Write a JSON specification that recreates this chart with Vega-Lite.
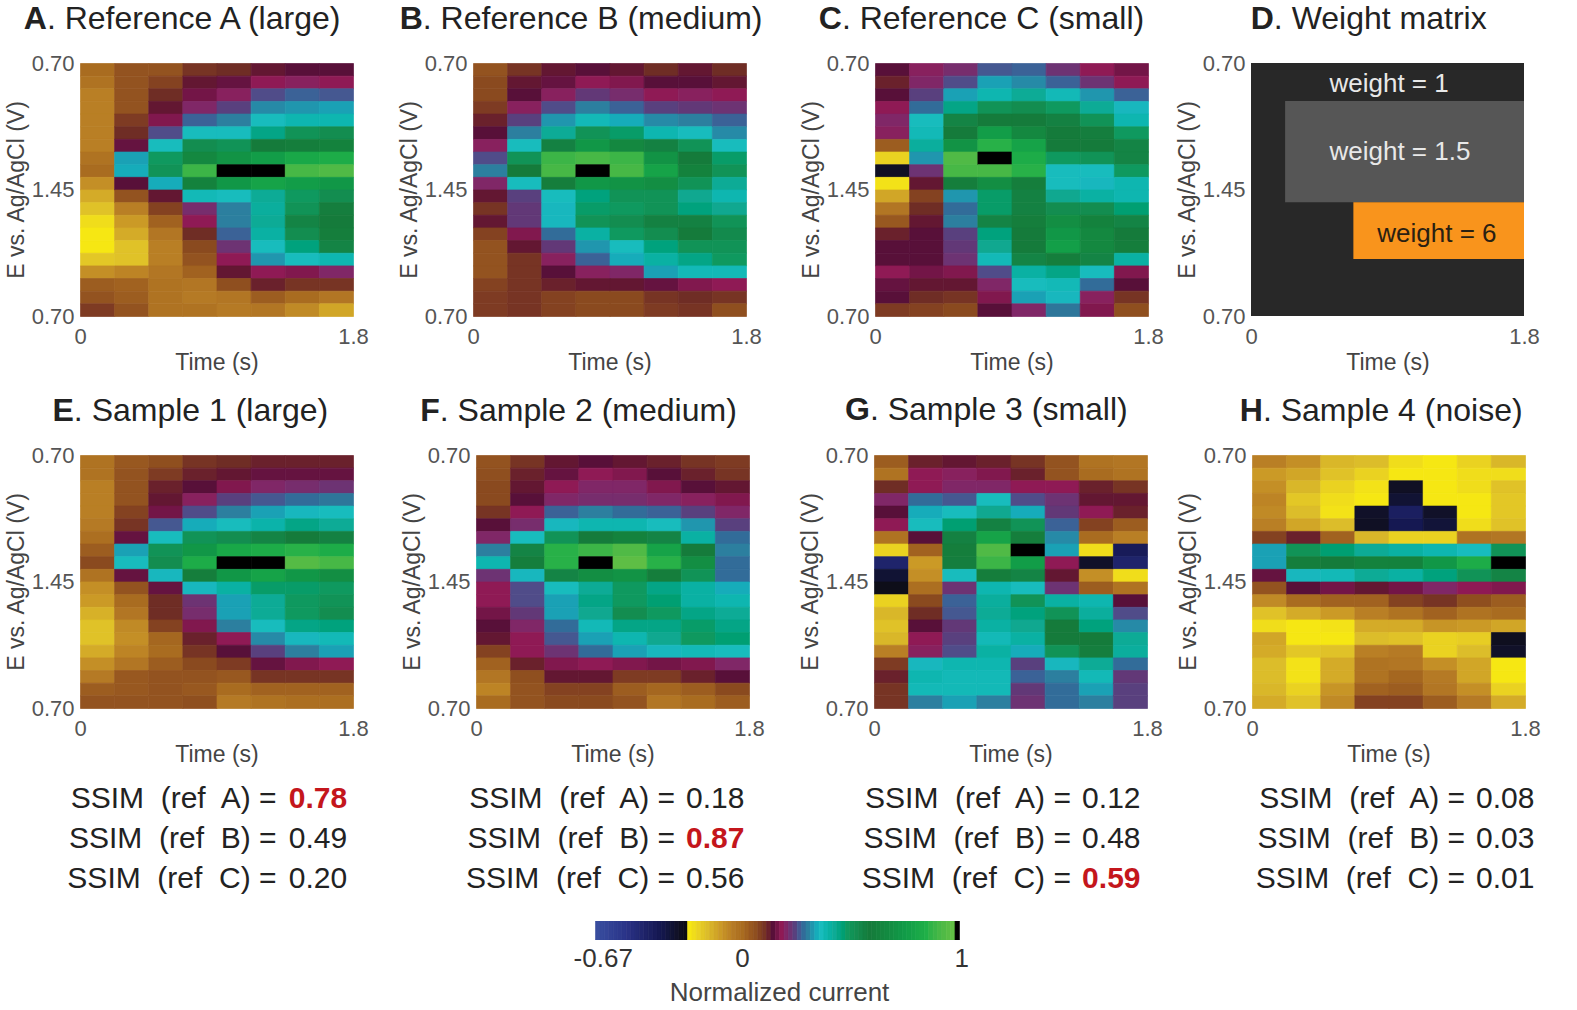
{"$schema":"https://vega.github.io/schema/vega-lite/v6.json","background":"white","padding":{"left":5,"top":2,"right":0,"bottom":0},
"config":{"view":{"stroke":null},"text":{"font":"Liberation Sans"},"axis":{"labelFont":"Liberation Sans","labelFontSize":22,"labelColor":"#555555","titleFont":"Liberation Sans","titleFontSize":23,"titleColor":"#444444","titleFontWeight":"normal","ticks":false,"domain":false,"grid":false,"labelPadding":10,"labelOverlap":false,"labelBound":false,"labelFlush":false}},
"datasets":{
"A":[{"t":0,"s":0,"v":0},{"t":0,"s":1,"v":-0.02},{"t":0,"s":2,"v":-0.05},{"t":0,"s":3,"v":-0.05},{"t":0,"s":4,"v":-0.05},{"t":0,"s":5,"v":-0.05},{"t":0,"s":6,"v":-0.05},{"t":0,"s":7,"v":-0.02},{"t":0,"s":8,"v":0},{"t":0,"s":9,"v":-0.08},{"t":0,"s":10,"v":-0.13},{"t":0,"s":11,"v":-0.17},{"t":0,"s":12,"v":-0.22},{"t":0,"s":13,"v":-0.24},{"t":0,"s":14,"v":-0.24},{"t":0,"s":15,"v":-0.18},{"t":0,"s":16,"v":-0.08},{"t":0,"s":17,"v":0.03},{"t":0,"s":18,"v":0.05},{"t":0,"s":19,"v":0.09},
{"t":1,"s":0,"v":0.05},{"t":1,"s":1,"v":0.05},{"t":1,"s":2,"v":0.05},{"t":1,"s":3,"v":0.05},{"t":1,"s":4,"v":0.09},{"t":1,"s":5,"v":0.11},{"t":1,"s":6,"v":0.15},{"t":1,"s":7,"v":0.33},{"t":1,"s":8,"v":0.34},{"t":1,"s":9,"v":0.14},{"t":1,"s":10,"v":0.05},{"t":1,"s":11,"v":-0.05},{"t":1,"s":12,"v":-0.1},{"t":1,"s":13,"v":-0.13},{"t":1,"s":14,"v":-0.17},{"t":1,"s":15,"v":-0.17},{"t":1,"s":16,"v":-0.06},{"t":1,"s":17,"v":0.02},{"t":1,"s":18,"v":0.03},{"t":1,"s":19,"v":0.05},
{"t":2,"s":0,"v":0.05},{"t":2,"s":1,"v":0.08},{"t":2,"s":2,"v":0.11},{"t":2,"s":3,"v":0.13},{"t":2,"s":4,"v":0.17},{"t":2,"s":5,"v":0.25},{"t":2,"s":6,"v":0.36},{"t":2,"s":7,"v":0.48},{"t":2,"s":8,"v":0.5},{"t":2,"s":9,"v":0.34},{"t":2,"s":10,"v":0.13},{"t":2,"s":11,"v":0.08},{"t":2,"s":12,"v":0.02},{"t":2,"s":13,"v":-0.03},{"t":2,"s":14,"v":-0.05},{"t":2,"s":15,"v":-0.05},{"t":2,"s":16,"v":-0.03},{"t":2,"s":17,"v":-0.02},{"t":2,"s":18,"v":-0.02},{"t":2,"s":19,"v":-0.02},
{"t":3,"s":0,"v":0.1},{"t":3,"s":1,"v":0.13},{"t":3,"s":2,"v":0.16},{"t":3,"s":3,"v":0.2},{"t":3,"s":4,"v":0.27},{"t":3,"s":5,"v":0.36},{"t":3,"s":6,"v":0.52},{"t":3,"s":7,"v":0.65},{"t":3,"s":8,"v":0.88},{"t":3,"s":9,"v":0.62},{"t":3,"s":10,"v":0.37},{"t":3,"s":11,"v":0.21},{"t":3,"s":12,"v":0.18},{"t":3,"s":13,"v":0.11},{"t":3,"s":14,"v":0.07},{"t":3,"s":15,"v":0.05},{"t":3,"s":16,"v":0.02},{"t":3,"s":17,"v":-0.03},{"t":3,"s":18,"v":-0.04},{"t":3,"s":19,"v":-0.02},
{"t":4,"s":0,"v":0.11},{"t":4,"s":1,"v":0.15},{"t":4,"s":2,"v":0.19},{"t":4,"s":3,"v":0.24},{"t":4,"s":4,"v":0.3},{"t":4,"s":5,"v":0.36},{"t":4,"s":6,"v":0.5},{"t":4,"s":7,"v":0.7},{"t":4,"s":8,"v":1},{"t":4,"s":9,"v":0.72},{"t":4,"s":10,"v":0.36},{"t":4,"s":11,"v":0.3},{"t":4,"s":12,"v":0.3},{"t":4,"s":13,"v":0.27},{"t":4,"s":14,"v":0.22},{"t":4,"s":15,"v":0.18},{"t":4,"s":16,"v":0.13},{"t":4,"s":17,"v":0.06},{"t":4,"s":18,"v":-0.03},{"t":4,"s":19,"v":-0.04},
{"t":5,"s":0,"v":0.13},{"t":5,"s":1,"v":0.18},{"t":5,"s":2,"v":0.25},{"t":5,"s":3,"v":0.31},{"t":5,"s":4,"v":0.36},{"t":5,"s":5,"v":0.44},{"t":5,"s":6,"v":0.58},{"t":5,"s":7,"v":0.75},{"t":5,"s":8,"v":1},{"t":5,"s":9,"v":0.78},{"t":5,"s":10,"v":0.42},{"t":5,"s":11,"v":0.41},{"t":5,"s":12,"v":0.42},{"t":5,"s":13,"v":0.4},{"t":5,"s":14,"v":0.36},{"t":5,"s":15,"v":0.32},{"t":5,"s":16,"v":0.18},{"t":5,"s":17,"v":0.12},{"t":5,"s":18,"v":0.03},{"t":5,"s":19,"v":-0.03},
{"t":6,"s":0,"v":0.14},{"t":6,"s":1,"v":0.19},{"t":6,"s":2,"v":0.27},{"t":6,"s":3,"v":0.32},{"t":6,"s":4,"v":0.38},{"t":6,"s":5,"v":0.5},{"t":6,"s":6,"v":0.6},{"t":6,"s":7,"v":0.8},{"t":6,"s":8,"v":0.9},{"t":6,"s":9,"v":0.75},{"t":6,"s":10,"v":0.48},{"t":6,"s":11,"v":0.5},{"t":6,"s":12,"v":0.55},{"t":6,"s":13,"v":0.52},{"t":6,"s":14,"v":0.45},{"t":6,"s":15,"v":0.36},{"t":6,"s":16,"v":0.17},{"t":6,"s":17,"v":0.1},{"t":6,"s":18,"v":0},{"t":6,"s":19,"v":-0.07},
{"t":7,"s":0,"v":0.14},{"t":7,"s":1,"v":0.18},{"t":7,"s":2,"v":0.26},{"t":7,"s":3,"v":0.33},{"t":7,"s":4,"v":0.38},{"t":7,"s":5,"v":0.52},{"t":7,"s":6,"v":0.62},{"t":7,"s":7,"v":0.82},{"t":7,"s":8,"v":0.92},{"t":7,"s":9,"v":0.72},{"t":7,"s":10,"v":0.52},{"t":7,"s":11,"v":0.57},{"t":7,"s":12,"v":0.58},{"t":7,"s":13,"v":0.6},{"t":7,"s":14,"v":0.55},{"t":7,"s":15,"v":0.38},{"t":7,"s":16,"v":0.2},{"t":7,"s":17,"v":0.1},{"t":7,"s":18,"v":-0.03},{"t":7,"s":19,"v":-0.12}],
"B":[{"t":0,"s":0,"v":0.05},{"t":0,"s":1,"v":0.07},{"t":0,"s":2,"v":0.07},{"t":0,"s":3,"v":0.09},{"t":0,"s":4,"v":0.12},{"t":0,"s":5,"v":0.14},{"t":0,"s":6,"v":0.19},{"t":0,"s":7,"v":0.25},{"t":0,"s":8,"v":0.3},{"t":0,"s":9,"v":0.2},{"t":0,"s":10,"v":0.13},{"t":0,"s":11,"v":0.1},{"t":0,"s":12,"v":0.13},{"t":0,"s":13,"v":0.08},{"t":0,"s":14,"v":0.05},{"t":0,"s":15,"v":0.05},{"t":0,"s":16,"v":0.05},{"t":0,"s":17,"v":0.08},{"t":0,"s":18,"v":0.09},{"t":0,"s":19,"v":0.09},
{"t":1,"s":0,"v":0.1},{"t":1,"s":1,"v":0.13},{"t":1,"s":2,"v":0.14},{"t":1,"s":3,"v":0.19},{"t":1,"s":4,"v":0.24},{"t":1,"s":5,"v":0.3},{"t":1,"s":6,"v":0.36},{"t":1,"s":7,"v":0.5},{"t":1,"s":8,"v":0.58},{"t":1,"s":9,"v":0.36},{"t":1,"s":10,"v":0.24},{"t":1,"s":11,"v":0.23},{"t":1,"s":12,"v":0.23},{"t":1,"s":13,"v":0.17},{"t":1,"s":14,"v":0.13},{"t":1,"s":15,"v":0.1},{"t":1,"s":16,"v":0.1},{"t":1,"s":17,"v":0.1},{"t":1,"s":18,"v":0.1},{"t":1,"s":19,"v":0.1},
{"t":2,"s":0,"v":0.13},{"t":2,"s":1,"v":0.15},{"t":2,"s":2,"v":0.19},{"t":2,"s":3,"v":0.25},{"t":2,"s":4,"v":0.32},{"t":2,"s":5,"v":0.42},{"t":2,"s":6,"v":0.56},{"t":2,"s":7,"v":0.88},{"t":2,"s":8,"v":0.9},{"t":2,"s":9,"v":0.6},{"t":2,"s":10,"v":0.36},{"t":2,"s":11,"v":0.35},{"t":2,"s":12,"v":0.35},{"t":2,"s":13,"v":0.28},{"t":2,"s":14,"v":0.23},{"t":2,"s":15,"v":0.19},{"t":2,"s":16,"v":0.14},{"t":2,"s":17,"v":0.12},{"t":2,"s":18,"v":0.08},{"t":2,"s":19,"v":0.08},
{"t":3,"s":0,"v":0.14},{"t":3,"s":1,"v":0.18},{"t":3,"s":2,"v":0.23},{"t":3,"s":3,"v":0.3},{"t":3,"s":4,"v":0.37},{"t":3,"s":5,"v":0.5},{"t":3,"s":6,"v":0.72},{"t":3,"s":7,"v":0.9},{"t":3,"s":8,"v":1},{"t":3,"s":9,"v":0.72},{"t":3,"s":10,"v":0.45},{"t":3,"s":11,"v":0.47},{"t":3,"s":12,"v":0.5},{"t":3,"s":13,"v":0.4},{"t":3,"s":14,"v":0.32},{"t":3,"s":15,"v":0.27},{"t":3,"s":16,"v":0.19},{"t":3,"s":17,"v":0.13},{"t":3,"s":18,"v":0.07},{"t":3,"s":19,"v":0.07},
{"t":4,"s":0,"v":0.13},{"t":4,"s":1,"v":0.17},{"t":4,"s":2,"v":0.21},{"t":4,"s":3,"v":0.27},{"t":4,"s":4,"v":0.34},{"t":4,"s":5,"v":0.47},{"t":4,"s":6,"v":0.65},{"t":4,"s":7,"v":0.88},{"t":4,"s":8,"v":0.9},{"t":4,"s":9,"v":0.7},{"t":4,"s":10,"v":0.5},{"t":4,"s":11,"v":0.48},{"t":4,"s":12,"v":0.52},{"t":4,"s":13,"v":0.48},{"t":4,"s":14,"v":0.36},{"t":4,"s":15,"v":0.34},{"t":4,"s":16,"v":0.2},{"t":4,"s":17,"v":0.13},{"t":4,"s":18,"v":0.07},{"t":4,"s":19,"v":0.07},
{"t":5,"s":0,"v":0.11},{"t":5,"s":1,"v":0.14},{"t":5,"s":2,"v":0.18},{"t":5,"s":3,"v":0.24},{"t":5,"s":4,"v":0.31},{"t":5,"s":5,"v":0.38},{"t":5,"s":6,"v":0.56},{"t":5,"s":7,"v":0.7},{"t":5,"s":8,"v":0.78},{"t":5,"s":9,"v":0.68},{"t":5,"s":10,"v":0.5},{"t":5,"s":11,"v":0.5},{"t":5,"s":12,"v":0.56},{"t":5,"s":13,"v":0.52},{"t":5,"s":14,"v":0.45},{"t":5,"s":15,"v":0.4},{"t":5,"s":16,"v":0.33},{"t":5,"s":17,"v":0.15},{"t":5,"s":18,"v":0.1},{"t":5,"s":19,"v":0.09},
{"t":6,"s":0,"v":0.13},{"t":6,"s":1,"v":0.14},{"t":6,"s":2,"v":0.19},{"t":6,"s":3,"v":0.23},{"t":6,"s":4,"v":0.3},{"t":6,"s":5,"v":0.36},{"t":6,"s":6,"v":0.5},{"t":6,"s":7,"v":0.58},{"t":6,"s":8,"v":0.62},{"t":6,"s":9,"v":0.5},{"t":6,"s":10,"v":0.43},{"t":6,"s":11,"v":0.45},{"t":6,"s":12,"v":0.56},{"t":6,"s":13,"v":0.58},{"t":6,"s":14,"v":0.5},{"t":6,"s":15,"v":0.44},{"t":6,"s":16,"v":0.37},{"t":6,"s":17,"v":0.17},{"t":6,"s":18,"v":0.11},{"t":6,"s":19,"v":0.1},
{"t":7,"s":0,"v":0.11},{"t":7,"s":1,"v":0.13},{"t":7,"s":2,"v":0.18},{"t":7,"s":3,"v":0.22},{"t":7,"s":4,"v":0.27},{"t":7,"s":5,"v":0.31},{"t":7,"s":6,"v":0.36},{"t":7,"s":7,"v":0.47},{"t":7,"s":8,"v":0.5},{"t":7,"s":9,"v":0.42},{"t":7,"s":10,"v":0.38},{"t":7,"s":11,"v":0.43},{"t":7,"s":12,"v":0.5},{"t":7,"s":13,"v":0.53},{"t":7,"s":14,"v":0.5},{"t":7,"s":15,"v":0.48},{"t":7,"s":16,"v":0.37},{"t":7,"s":17,"v":0.18},{"t":7,"s":18,"v":0.1},{"t":7,"s":19,"v":0.06}],
"C":[{"t":0,"s":0,"v":0.14},{"t":0,"s":1,"v":0.12},{"t":0,"s":2,"v":0.14},{"t":0,"s":3,"v":0.18},{"t":0,"s":4,"v":0.2},{"t":0,"s":5,"v":0.19},{"t":0,"s":6,"v":0.03},{"t":0,"s":7,"v":-0.2},{"t":0,"s":8,"v":-0.29},{"t":0,"s":9,"v":-0.23},{"t":0,"s":10,"v":-0.12},{"t":0,"s":11,"v":-0.03},{"t":0,"s":12,"v":0.04},{"t":0,"s":13,"v":0.12},{"t":0,"s":14,"v":0.14},{"t":0,"s":15,"v":0.14},{"t":0,"s":16,"v":0.18},{"t":0,"s":17,"v":0.15},{"t":0,"s":18,"v":0.14},{"t":0,"s":19,"v":0.09},
{"t":1,"s":0,"v":0.19},{"t":1,"s":1,"v":0.2},{"t":1,"s":2,"v":0.24},{"t":1,"s":3,"v":0.28},{"t":1,"s":4,"v":0.36},{"t":1,"s":5,"v":0.37},{"t":1,"s":6,"v":0.41},{"t":1,"s":7,"v":0.32},{"t":1,"s":8,"v":0.22},{"t":1,"s":9,"v":0.13},{"t":1,"s":10,"v":0.08},{"t":1,"s":11,"v":0.11},{"t":1,"s":12,"v":0.13},{"t":1,"s":13,"v":0.14},{"t":1,"s":14,"v":0.14},{"t":1,"s":15,"v":0.14},{"t":1,"s":16,"v":0.16},{"t":1,"s":17,"v":0.13},{"t":1,"s":18,"v":0.11},{"t":1,"s":19,"v":0.08},
{"t":2,"s":0,"v":0.21},{"t":2,"s":1,"v":0.25},{"t":2,"s":2,"v":0.33},{"t":2,"s":3,"v":0.44},{"t":2,"s":4,"v":0.55},{"t":2,"s":5,"v":0.58},{"t":2,"s":6,"v":0.7},{"t":2,"s":7,"v":0.92},{"t":2,"s":8,"v":0.9},{"t":2,"s":9,"v":0.6},{"t":2,"s":10,"v":0.32},{"t":2,"s":11,"v":0.28},{"t":2,"s":12,"v":0.3},{"t":2,"s":13,"v":0.24},{"t":2,"s":14,"v":0.23},{"t":2,"s":15,"v":0.22},{"t":2,"s":16,"v":0.17},{"t":2,"s":17,"v":0.13},{"t":2,"s":18,"v":0.1},{"t":2,"s":19,"v":0.07},
{"t":3,"s":0,"v":0.26},{"t":3,"s":1,"v":0.33},{"t":3,"s":2,"v":0.38},{"t":3,"s":3,"v":0.5},{"t":3,"s":4,"v":0.58},{"t":3,"s":5,"v":0.75},{"t":3,"s":6,"v":0.85},{"t":3,"s":7,"v":1},{"t":3,"s":8,"v":0.9},{"t":3,"s":9,"v":0.68},{"t":3,"s":10,"v":0.47},{"t":3,"s":11,"v":0.47},{"t":3,"s":12,"v":0.55},{"t":3,"s":13,"v":0.45},{"t":3,"s":14,"v":0.43},{"t":3,"s":15,"v":0.37},{"t":3,"s":16,"v":0.25},{"t":3,"s":17,"v":0.2},{"t":3,"s":18,"v":0.17},{"t":3,"s":19,"v":0.14},
{"t":4,"s":0,"v":0.27},{"t":4,"s":1,"v":0.31},{"t":4,"s":2,"v":0.42},{"t":4,"s":3,"v":0.52},{"t":4,"s":4,"v":0.58},{"t":4,"s":5,"v":0.65},{"t":4,"s":6,"v":0.78},{"t":4,"s":7,"v":0.82},{"t":4,"s":8,"v":0.85},{"t":4,"s":9,"v":0.6},{"t":4,"s":10,"v":0.56},{"t":4,"s":11,"v":0.56},{"t":4,"s":12,"v":0.6},{"t":4,"s":13,"v":0.58},{"t":4,"s":14,"v":0.58},{"t":4,"s":15,"v":0.55},{"t":4,"s":16,"v":0.4},{"t":4,"s":17,"v":0.36},{"t":4,"s":18,"v":0.33},{"t":4,"s":19,"v":0.2},
{"t":5,"s":0,"v":0.22},{"t":5,"s":1,"v":0.27},{"t":5,"s":2,"v":0.37},{"t":5,"s":3,"v":0.48},{"t":5,"s":4,"v":0.56},{"t":5,"s":5,"v":0.58},{"t":5,"s":6,"v":0.58},{"t":5,"s":7,"v":0.48},{"t":5,"s":8,"v":0.36},{"t":5,"s":9,"v":0.36},{"t":5,"s":10,"v":0.43},{"t":5,"s":11,"v":0.52},{"t":5,"s":12,"v":0.68},{"t":5,"s":13,"v":0.72},{"t":5,"s":14,"v":0.76},{"t":5,"s":15,"v":0.6},{"t":5,"s":16,"v":0.44},{"t":5,"s":17,"v":0.37},{"t":5,"s":18,"v":0.35},{"t":5,"s":19,"v":0.29},
{"t":6,"s":0,"v":0.18},{"t":6,"s":1,"v":0.22},{"t":6,"s":2,"v":0.32},{"t":6,"s":3,"v":0.42},{"t":6,"s":4,"v":0.5},{"t":6,"s":5,"v":0.57},{"t":6,"s":6,"v":0.58},{"t":6,"s":7,"v":0.5},{"t":6,"s":8,"v":0.36},{"t":6,"s":9,"v":0.35},{"t":6,"s":10,"v":0.4},{"t":6,"s":11,"v":0.52},{"t":6,"s":12,"v":0.62},{"t":6,"s":13,"v":0.65},{"t":6,"s":14,"v":0.65},{"t":6,"s":15,"v":0.55},{"t":6,"s":16,"v":0.36},{"t":6,"s":17,"v":0.28},{"t":6,"s":18,"v":0.19},{"t":6,"s":19,"v":0.17},
{"t":7,"s":0,"v":0.16},{"t":7,"s":1,"v":0.18},{"t":7,"s":2,"v":0.27},{"t":7,"s":3,"v":0.35},{"t":7,"s":4,"v":0.38},{"t":7,"s":5,"v":0.48},{"t":7,"s":6,"v":0.55},{"t":7,"s":7,"v":0.55},{"t":7,"s":8,"v":0.48},{"t":7,"s":9,"v":0.38},{"t":7,"s":10,"v":0.38},{"t":7,"s":11,"v":0.46},{"t":7,"s":12,"v":0.55},{"t":7,"s":13,"v":0.58},{"t":7,"s":14,"v":0.6},{"t":7,"s":15,"v":0.4},{"t":7,"s":16,"v":0.17},{"t":7,"s":17,"v":0.14},{"t":7,"s":18,"v":0.1},{"t":7,"s":19,"v":0.06}],
"E":[{"t":0,"s":0,"v":-0.02},{"t":0,"s":1,"v":-0.02},{"t":0,"s":2,"v":-0.05},{"t":0,"s":3,"v":-0.05},{"t":0,"s":4,"v":-0.05},{"t":0,"s":5,"v":-0.04},{"t":0,"s":6,"v":-0.01},{"t":0,"s":7,"v":0.03},{"t":0,"s":8,"v":0.07},{"t":0,"s":9,"v":-0.02},{"t":0,"s":10,"v":-0.08},{"t":0,"s":11,"v":-0.1},{"t":0,"s":12,"v":-0.14},{"t":0,"s":13,"v":-0.17},{"t":0,"s":14,"v":-0.17},{"t":0,"s":15,"v":-0.13},{"t":0,"s":16,"v":-0.08},{"t":0,"s":17,"v":-0.04},{"t":0,"s":18,"v":0.03},{"t":0,"s":19,"v":0.05},
{"t":1,"s":0,"v":0.04},{"t":1,"s":1,"v":0.05},{"t":1,"s":2,"v":0.05},{"t":1,"s":3,"v":0.05},{"t":1,"s":4,"v":0.08},{"t":1,"s":5,"v":0.1},{"t":1,"s":6,"v":0.15},{"t":1,"s":7,"v":0.33},{"t":1,"s":8,"v":0.36},{"t":1,"s":9,"v":0.15},{"t":1,"s":10,"v":0.05},{"t":1,"s":11,"v":0},{"t":1,"s":12,"v":-0.03},{"t":1,"s":13,"v":-0.07},{"t":1,"s":14,"v":-0.08},{"t":1,"s":15,"v":-0.06},{"t":1,"s":16,"v":-0.03},{"t":1,"s":17,"v":0.04},{"t":1,"s":18,"v":0.04},{"t":1,"s":19,"v":0.05},
{"t":2,"s":0,"v":0.06},{"t":2,"s":1,"v":0.09},{"t":2,"s":2,"v":0.12},{"t":2,"s":3,"v":0.13},{"t":2,"s":4,"v":0.16},{"t":2,"s":5,"v":0.26},{"t":2,"s":6,"v":0.36},{"t":2,"s":7,"v":0.5},{"t":2,"s":8,"v":0.52},{"t":2,"s":9,"v":0.35},{"t":2,"s":10,"v":0.15},{"t":2,"s":11,"v":0.11},{"t":2,"s":12,"v":0.11},{"t":2,"s":13,"v":0.08},{"t":2,"s":14,"v":0.01},{"t":2,"s":15,"v":0},{"t":2,"s":16,"v":0.03},{"t":2,"s":17,"v":0.05},{"t":2,"s":18,"v":0.05},{"t":2,"s":19,"v":0.05},
{"t":3,"s":0,"v":0.1},{"t":3,"s":1,"v":0.12},{"t":3,"s":2,"v":0.14},{"t":3,"s":3,"v":0.19},{"t":3,"s":4,"v":0.25},{"t":3,"s":5,"v":0.34},{"t":3,"s":6,"v":0.5},{"t":3,"s":7,"v":0.72},{"t":3,"s":8,"v":0.82},{"t":3,"s":9,"v":0.6},{"t":3,"s":10,"v":0.35},{"t":3,"s":11,"v":0.22},{"t":3,"s":12,"v":0.21},{"t":3,"s":13,"v":0.17},{"t":3,"s":14,"v":0.12},{"t":3,"s":15,"v":0.1},{"t":3,"s":16,"v":0.07},{"t":3,"s":17,"v":0.05},{"t":3,"s":18,"v":0.04},{"t":3,"s":19,"v":0.06},
{"t":4,"s":0,"v":0.11},{"t":4,"s":1,"v":0.13},{"t":4,"s":2,"v":0.17},{"t":4,"s":3,"v":0.24},{"t":4,"s":4,"v":0.3},{"t":4,"s":5,"v":0.36},{"t":4,"s":6,"v":0.52},{"t":4,"s":7,"v":0.8},{"t":4,"s":8,"v":1},{"t":4,"s":9,"v":0.72},{"t":4,"s":10,"v":0.4},{"t":4,"s":11,"v":0.33},{"t":4,"s":12,"v":0.33},{"t":4,"s":13,"v":0.3},{"t":4,"s":14,"v":0.18},{"t":4,"s":15,"v":0.14},{"t":4,"s":16,"v":0.09},{"t":4,"s":17,"v":0.04},{"t":4,"s":18,"v":0},{"t":4,"s":19,"v":-0.04},
{"t":5,"s":0,"v":0.12},{"t":5,"s":1,"v":0.15},{"t":5,"s":2,"v":0.2},{"t":5,"s":3,"v":0.26},{"t":5,"s":4,"v":0.33},{"t":5,"s":5,"v":0.39},{"t":5,"s":6,"v":0.55},{"t":5,"s":7,"v":0.82},{"t":5,"s":8,"v":1},{"t":5,"s":9,"v":0.78},{"t":5,"s":10,"v":0.47},{"t":5,"s":11,"v":0.42},{"t":5,"s":12,"v":0.42},{"t":5,"s":13,"v":0.36},{"t":5,"s":14,"v":0.31},{"t":5,"s":15,"v":0.24},{"t":5,"s":16,"v":0.15},{"t":5,"s":17,"v":0.1},{"t":5,"s":18,"v":0.02},{"t":5,"s":19,"v":-0.02},
{"t":6,"s":0,"v":0.12},{"t":6,"s":1,"v":0.15},{"t":6,"s":2,"v":0.21},{"t":6,"s":3,"v":0.28},{"t":6,"s":4,"v":0.35},{"t":6,"s":5,"v":0.44},{"t":6,"s":6,"v":0.58},{"t":6,"s":7,"v":0.85},{"t":6,"s":8,"v":0.93},{"t":6,"s":9,"v":0.72},{"t":6,"s":10,"v":0.47},{"t":6,"s":11,"v":0.48},{"t":6,"s":12,"v":0.48},{"t":6,"s":13,"v":0.44},{"t":6,"s":14,"v":0.35},{"t":6,"s":15,"v":0.3},{"t":6,"s":16,"v":0.17},{"t":6,"s":17,"v":0.1},{"t":6,"s":18,"v":0.02},{"t":6,"s":19,"v":-0.01},
{"t":7,"s":0,"v":0.12},{"t":7,"s":1,"v":0.15},{"t":7,"s":2,"v":0.22},{"t":7,"s":3,"v":0.29},{"t":7,"s":4,"v":0.36},{"t":7,"s":5,"v":0.42},{"t":7,"s":6,"v":0.56},{"t":7,"s":7,"v":0.82},{"t":7,"s":8,"v":0.9},{"t":7,"s":9,"v":0.68},{"t":7,"s":10,"v":0.48},{"t":7,"s":11,"v":0.5},{"t":7,"s":12,"v":0.52},{"t":7,"s":13,"v":0.45},{"t":7,"s":14,"v":0.37},{"t":7,"s":15,"v":0.33},{"t":7,"s":16,"v":0.18},{"t":7,"s":17,"v":0.1},{"t":7,"s":18,"v":0.02},{"t":7,"s":19,"v":-0.01}],
"F":[{"t":0,"s":0,"v":0.05},{"t":0,"s":1,"v":0.06},{"t":0,"s":2,"v":0.07},{"t":0,"s":3,"v":0.07},{"t":0,"s":4,"v":0.1},{"t":0,"s":5,"v":0.14},{"t":0,"s":6,"v":0.2},{"t":0,"s":7,"v":0.3},{"t":0,"s":8,"v":0.38},{"t":0,"s":9,"v":0.22},{"t":0,"s":10,"v":0.18},{"t":0,"s":11,"v":0.18},{"t":0,"s":12,"v":0.16},{"t":0,"s":13,"v":0.14},{"t":0,"s":14,"v":0.13},{"t":0,"s":15,"v":0.08},{"t":0,"s":16,"v":0.02},{"t":0,"s":17,"v":-0.03},{"t":0,"s":18,"v":-0.06},{"t":0,"s":19,"v":0},
{"t":1,"s":0,"v":0.1},{"t":1,"s":1,"v":0.12},{"t":1,"s":2,"v":0.13},{"t":1,"s":3,"v":0.14},{"t":1,"s":4,"v":0.18},{"t":1,"s":5,"v":0.21},{"t":1,"s":6,"v":0.36},{"t":1,"s":7,"v":0.55},{"t":1,"s":8,"v":0.6},{"t":1,"s":9,"v":0.35},{"t":1,"s":10,"v":0.25},{"t":1,"s":11,"v":0.25},{"t":1,"s":12,"v":0.23},{"t":1,"s":13,"v":0.2},{"t":1,"s":14,"v":0.18},{"t":1,"s":15,"v":0.18},{"t":1,"s":16,"v":0.12},{"t":1,"s":17,"v":0.06},{"t":1,"s":18,"v":0.05},{"t":1,"s":19,"v":0.05},
{"t":2,"s":0,"v":0.13},{"t":2,"s":1,"v":0.15},{"t":2,"s":2,"v":0.18},{"t":2,"s":3,"v":0.2},{"t":2,"s":4,"v":0.27},{"t":2,"s":5,"v":0.35},{"t":2,"s":6,"v":0.5},{"t":2,"s":7,"v":0.85},{"t":2,"s":8,"v":0.85},{"t":2,"s":9,"v":0.55},{"t":2,"s":10,"v":0.36},{"t":2,"s":11,"v":0.33},{"t":2,"s":12,"v":0.33},{"t":2,"s":13,"v":0.28},{"t":2,"s":14,"v":0.26},{"t":2,"s":15,"v":0.22},{"t":2,"s":16,"v":0.17},{"t":2,"s":17,"v":0.13},{"t":2,"s":18,"v":0.08},{"t":2,"s":19,"v":0.07},
{"t":3,"s":0,"v":0.14},{"t":3,"s":1,"v":0.18},{"t":3,"s":2,"v":0.2},{"t":3,"s":3,"v":0.21},{"t":3,"s":4,"v":0.3},{"t":3,"s":5,"v":0.38},{"t":3,"s":6,"v":0.58},{"t":3,"s":7,"v":0.88},{"t":3,"s":8,"v":1},{"t":3,"s":9,"v":0.68},{"t":3,"s":10,"v":0.42},{"t":3,"s":11,"v":0.44},{"t":3,"s":12,"v":0.43},{"t":3,"s":13,"v":0.37},{"t":3,"s":14,"v":0.33},{"t":3,"s":15,"v":0.28},{"t":3,"s":16,"v":0.18},{"t":3,"s":17,"v":0.13},{"t":3,"s":18,"v":0.08},{"t":3,"s":19,"v":0.07},
{"t":4,"s":0,"v":0.13},{"t":4,"s":1,"v":0.17},{"t":4,"s":2,"v":0.2},{"t":4,"s":3,"v":0.21},{"t":4,"s":4,"v":0.28},{"t":4,"s":5,"v":0.38},{"t":4,"s":6,"v":0.62},{"t":4,"s":7,"v":0.92},{"t":4,"s":8,"v":0.95},{"t":4,"s":9,"v":0.7},{"t":4,"s":10,"v":0.48},{"t":4,"s":11,"v":0.48},{"t":4,"s":12,"v":0.52},{"t":4,"s":13,"v":0.44},{"t":4,"s":14,"v":0.38},{"t":4,"s":15,"v":0.33},{"t":4,"s":16,"v":0.17},{"t":4,"s":17,"v":0.09},{"t":4,"s":18,"v":0.03},{"t":4,"s":19,"v":0.05},
{"t":5,"s":0,"v":0.12},{"t":5,"s":1,"v":0.14},{"t":5,"s":2,"v":0.17},{"t":5,"s":3,"v":0.2},{"t":5,"s":4,"v":0.27},{"t":5,"s":5,"v":0.36},{"t":5,"s":6,"v":0.55},{"t":5,"s":7,"v":0.78},{"t":5,"s":8,"v":0.85},{"t":5,"s":9,"v":0.6},{"t":5,"s":10,"v":0.44},{"t":5,"s":11,"v":0.46},{"t":5,"s":12,"v":0.48},{"t":5,"s":13,"v":0.44},{"t":5,"s":14,"v":0.43},{"t":5,"s":15,"v":0.35},{"t":5,"s":16,"v":0.16},{"t":5,"s":17,"v":0.09},{"t":5,"s":18,"v":0.01},{"t":5,"s":19,"v":-0.03},
{"t":6,"s":0,"v":0.1},{"t":6,"s":1,"v":0.12},{"t":6,"s":2,"v":0.14},{"t":6,"s":3,"v":0.19},{"t":6,"s":4,"v":0.24},{"t":6,"s":5,"v":0.32},{"t":6,"s":6,"v":0.4},{"t":6,"s":7,"v":0.58},{"t":6,"s":8,"v":0.68},{"t":6,"s":9,"v":0.5},{"t":6,"s":10,"v":0.4},{"t":6,"s":11,"v":0.4},{"t":6,"s":12,"v":0.44},{"t":6,"s":13,"v":0.47},{"t":6,"s":14,"v":0.48},{"t":6,"s":15,"v":0.37},{"t":6,"s":16,"v":0.17},{"t":6,"s":17,"v":0.12},{"t":6,"s":18,"v":0.03},{"t":6,"s":19,"v":0},
{"t":7,"s":0,"v":0.09},{"t":7,"s":1,"v":0.1},{"t":7,"s":2,"v":0.13},{"t":7,"s":3,"v":0.17},{"t":7,"s":4,"v":0.2},{"t":7,"s":5,"v":0.24},{"t":7,"s":6,"v":0.28},{"t":7,"s":7,"v":0.3},{"t":7,"s":8,"v":0.28},{"t":7,"s":9,"v":0.28},{"t":7,"s":10,"v":0.34},{"t":7,"s":11,"v":0.38},{"t":7,"s":12,"v":0.42},{"t":7,"s":13,"v":0.44},{"t":7,"s":14,"v":0.46},{"t":7,"s":15,"v":0.36},{"t":7,"s":16,"v":0.2},{"t":7,"s":17,"v":0.14},{"t":7,"s":18,"v":0.07},{"t":7,"s":19,"v":0.03}],
"G":[{"t":0,"s":0,"v":0.03},{"t":0,"s":1,"v":-0.02},{"t":0,"s":2,"v":0.11},{"t":0,"s":3,"v":0.2},{"t":0,"s":4,"v":0.14},{"t":0,"s":5,"v":0.18},{"t":0,"s":6,"v":-0.02},{"t":0,"s":7,"v":-0.2},{"t":0,"s":8,"v":-0.45},{"t":0,"s":9,"v":-0.32},{"t":0,"s":10,"v":-0.27},{"t":0,"s":11,"v":-0.2},{"t":0,"s":12,"v":-0.15},{"t":0,"s":13,"v":-0.17},{"t":0,"s":14,"v":-0.15},{"t":0,"s":15,"v":-0.05},{"t":0,"s":16,"v":0.09},{"t":0,"s":17,"v":0.12},{"t":0,"s":18,"v":0.1},{"t":0,"s":19,"v":0.1},
{"t":1,"s":0,"v":0.12},{"t":1,"s":1,"v":0.18},{"t":1,"s":2,"v":0.18},{"t":1,"s":3,"v":0.28},{"t":1,"s":4,"v":0.34},{"t":1,"s":5,"v":0.36},{"t":1,"s":6,"v":0.14},{"t":1,"s":7,"v":0.02},{"t":1,"s":8,"v":-0.1},{"t":1,"s":9,"v":-0.08},{"t":1,"s":10,"v":-0.01},{"t":1,"s":11,"v":0.07},{"t":1,"s":12,"v":0.11},{"t":1,"s":13,"v":0.14},{"t":1,"s":14,"v":0.18},{"t":1,"s":15,"v":0.19},{"t":1,"s":16,"v":0.35},{"t":1,"s":17,"v":0.38},{"t":1,"s":18,"v":0.37},{"t":1,"s":19,"v":0.3},
{"t":2,"s":0,"v":0.13},{"t":2,"s":1,"v":0.19},{"t":2,"s":2,"v":0.2},{"t":2,"s":3,"v":0.26},{"t":2,"s":4,"v":0.36},{"t":2,"s":5,"v":0.46},{"t":2,"s":6,"v":0.56},{"t":2,"s":7,"v":0.6},{"t":2,"s":8,"v":0.57},{"t":2,"s":9,"v":0.36},{"t":2,"s":10,"v":0.22},{"t":2,"s":11,"v":0.27},{"t":2,"s":12,"v":0.26},{"t":2,"s":13,"v":0.23},{"t":2,"s":14,"v":0.24},{"t":2,"s":15,"v":0.25},{"t":2,"s":16,"v":0.38},{"t":2,"s":17,"v":0.37},{"t":2,"s":18,"v":0.37},{"t":2,"s":19,"v":0.33},
{"t":3,"s":0,"v":0.12},{"t":3,"s":1,"v":0.17},{"t":3,"s":2,"v":0.2},{"t":3,"s":3,"v":0.36},{"t":3,"s":4,"v":0.43},{"t":3,"s":5,"v":0.56},{"t":3,"s":6,"v":0.78},{"t":3,"s":7,"v":0.92},{"t":3,"s":8,"v":0.88},{"t":3,"s":9,"v":0.6},{"t":3,"s":10,"v":0.38},{"t":3,"s":11,"v":0.41},{"t":3,"s":12,"v":0.42},{"t":3,"s":13,"v":0.4},{"t":3,"s":14,"v":0.37},{"t":3,"s":15,"v":0.4},{"t":3,"s":16,"v":0.38},{"t":3,"s":17,"v":0.37},{"t":3,"s":18,"v":0.37},{"t":3,"s":19,"v":0.3},
{"t":4,"s":0,"v":0.1},{"t":4,"s":1,"v":0.12},{"t":4,"s":2,"v":0.18},{"t":4,"s":3,"v":0.25},{"t":4,"s":4,"v":0.34},{"t":4,"s":5,"v":0.5},{"t":4,"s":6,"v":0.6},{"t":4,"s":7,"v":1},{"t":4,"s":8,"v":0.75},{"t":4,"s":9,"v":0.55},{"t":4,"s":10,"v":0.36},{"t":4,"s":11,"v":0.5},{"t":4,"s":12,"v":0.45},{"t":4,"s":13,"v":0.43},{"t":4,"s":14,"v":0.4},{"t":4,"s":15,"v":0.34},{"t":4,"s":16,"v":0.24},{"t":4,"s":17,"v":0.27},{"t":4,"s":18,"v":0.23},{"t":4,"s":19,"v":0.22},
{"t":5,"s":0,"v":0.05},{"t":5,"s":1,"v":0.05},{"t":5,"s":2,"v":0.18},{"t":5,"s":3,"v":0.22},{"t":5,"s":4,"v":0.23},{"t":5,"s":5,"v":0.27},{"t":5,"s":6,"v":0.31},{"t":5,"s":7,"v":0.33},{"t":5,"s":8,"v":0.18},{"t":5,"s":9,"v":0.13},{"t":5,"s":10,"v":0.22},{"t":5,"s":11,"v":0.4},{"t":5,"s":12,"v":0.5},{"t":5,"s":13,"v":0.58},{"t":5,"s":14,"v":0.58},{"t":5,"s":15,"v":0.5},{"t":5,"s":16,"v":0.35},{"t":5,"s":17,"v":0.3},{"t":5,"s":18,"v":0.28},{"t":5,"s":19,"v":0.28},
{"t":6,"s":0,"v":-0.02},{"t":6,"s":1,"v":0},{"t":6,"s":2,"v":0.12},{"t":6,"s":3,"v":0.13},{"t":6,"s":4,"v":0.18},{"t":6,"s":5,"v":0.08},{"t":6,"s":6,"v":0},{"t":6,"s":7,"v":-0.22},{"t":6,"s":8,"v":-0.3},{"t":6,"s":9,"v":-0.08},{"t":6,"s":10,"v":0.03},{"t":6,"s":11,"v":0.38},{"t":6,"s":12,"v":0.41},{"t":6,"s":13,"v":0.45},{"t":6,"s":14,"v":0.58},{"t":6,"s":15,"v":0.57},{"t":6,"s":16,"v":0.42},{"t":6,"s":17,"v":0.37},{"t":6,"s":18,"v":0.33},{"t":6,"s":19,"v":0.3},
{"t":7,"s":0,"v":-0.03},{"t":7,"s":1,"v":-0.02},{"t":7,"s":2,"v":0.1},{"t":7,"s":3,"v":0.13},{"t":7,"s":4,"v":0.12},{"t":7,"s":5,"v":0.03},{"t":7,"s":6,"v":-0.05},{"t":7,"s":7,"v":-0.4},{"t":7,"s":8,"v":-0.45},{"t":7,"s":9,"v":-0.22},{"t":7,"s":10,"v":-0.02},{"t":7,"s":11,"v":0.14},{"t":7,"s":12,"v":0.25},{"t":7,"s":13,"v":0.31},{"t":7,"s":14,"v":0.42},{"t":7,"s":15,"v":0.41},{"t":7,"s":16,"v":0.28},{"t":7,"s":17,"v":0.23},{"t":7,"s":18,"v":0.24},{"t":7,"s":19,"v":0.24}],
"H":[{"t":0,"s":0,"v":-0.05},{"t":0,"s":1,"v":-0.1},{"t":0,"s":2,"v":-0.08},{"t":0,"s":3,"v":-0.06},{"t":0,"s":4,"v":-0.07},{"t":0,"s":5,"v":-0.05},{"t":0,"s":6,"v":0.08},{"t":0,"s":7,"v":0.33},{"t":0,"s":8,"v":0.33},{"t":0,"s":9,"v":0.15},{"t":0,"s":10,"v":0.05},{"t":0,"s":11,"v":-0.07},{"t":0,"s":12,"v":-0.17},{"t":0,"s":13,"v":-0.22},{"t":0,"s":14,"v":-0.12},{"t":0,"s":15,"v":-0.13},{"t":0,"s":16,"v":-0.16},{"t":0,"s":17,"v":-0.16},{"t":0,"s":18,"v":-0.15},{"t":0,"s":19,"v":-0.13},
{"t":1,"s":0,"v":-0.08},{"t":1,"s":1,"v":-0.12},{"t":1,"s":2,"v":-0.15},{"t":1,"s":3,"v":-0.18},{"t":1,"s":4,"v":-0.16},{"t":1,"s":5,"v":-0.12},{"t":1,"s":6,"v":0.12},{"t":1,"s":7,"v":0.5},{"t":1,"s":8,"v":0.6},{"t":1,"s":9,"v":0.35},{"t":1,"s":10,"v":0.14},{"t":1,"s":11,"v":0},{"t":1,"s":12,"v":-0.13},{"t":1,"s":13,"v":-0.24},{"t":1,"s":14,"v":-0.24},{"t":1,"s":15,"v":-0.18},{"t":1,"s":16,"v":-0.23},{"t":1,"s":17,"v":-0.23},{"t":1,"s":18,"v":-0.2},{"t":1,"s":19,"v":-0.17},
{"t":2,"s":0,"v":-0.15},{"t":2,"s":1,"v":-0.17},{"t":2,"s":2,"v":-0.2},{"t":2,"s":3,"v":-0.22},{"t":2,"s":4,"v":-0.23},{"t":2,"s":5,"v":-0.16},{"t":2,"s":6,"v":0.02},{"t":2,"s":7,"v":0.46},{"t":2,"s":8,"v":0.58},{"t":2,"s":9,"v":0.37},{"t":2,"s":10,"v":0.16},{"t":2,"s":11,"v":0.02},{"t":2,"s":12,"v":-0.1},{"t":2,"s":13,"v":-0.23},{"t":2,"s":14,"v":-0.24},{"t":2,"s":15,"v":-0.17},{"t":2,"s":16,"v":-0.13},{"t":2,"s":17,"v":-0.13},{"t":2,"s":18,"v":-0.09},{"t":2,"s":19,"v":-0.07},
{"t":3,"s":0,"v":-0.16},{"t":3,"s":1,"v":-0.2},{"t":3,"s":2,"v":-0.23},{"t":3,"s":3,"v":-0.24},{"t":3,"s":4,"v":-0.3},{"t":3,"s":5,"v":-0.29},{"t":3,"s":6,"v":-0.15},{"t":3,"s":7,"v":0.42},{"t":3,"s":8,"v":0.62},{"t":3,"s":9,"v":0.42},{"t":3,"s":10,"v":0.13},{"t":3,"s":11,"v":0.02},{"t":3,"s":12,"v":-0.05},{"t":3,"s":13,"v":-0.13},{"t":3,"s":14,"v":-0.16},{"t":3,"s":15,"v":-0.05},{"t":3,"s":16,"v":-0.02},{"t":3,"s":17,"v":-0.02},{"t":3,"s":18,"v":0.02},{"t":3,"s":19,"v":0.08},
{"t":4,"s":0,"v":-0.22},{"t":4,"s":1,"v":-0.24},{"t":4,"s":2,"v":-0.29},{"t":4,"s":3,"v":-0.32},{"t":4,"s":4,"v":-0.42},{"t":4,"s":5,"v":-0.38},{"t":4,"s":6,"v":-0.2},{"t":4,"s":7,"v":0.4},{"t":4,"s":8,"v":0.62},{"t":4,"s":9,"v":0.4},{"t":4,"s":10,"v":0.16},{"t":4,"s":11,"v":0.08},{"t":4,"s":12,"v":-0.02},{"t":4,"s":13,"v":-0.13},{"t":4,"s":14,"v":-0.17},{"t":4,"s":15,"v":-0.04},{"t":4,"s":16,"v":-0.03},{"t":4,"s":17,"v":0.01},{"t":4,"s":18,"v":0.03},{"t":4,"s":19,"v":0.08},
{"t":5,"s":0,"v":-0.24},{"t":5,"s":1,"v":-0.24},{"t":5,"s":2,"v":-0.24},{"t":5,"s":3,"v":-0.24},{"t":5,"s":4,"v":-0.3},{"t":5,"s":5,"v":-0.33},{"t":5,"s":6,"v":-0.2},{"t":5,"s":7,"v":0.38},{"t":5,"s":8,"v":0.72},{"t":5,"s":9,"v":0.45},{"t":5,"s":10,"v":0.2},{"t":5,"s":11,"v":0.1},{"t":5,"s":12,"v":0.02},{"t":5,"s":13,"v":-0.09},{"t":5,"s":14,"v":-0.2},{"t":5,"s":15,"v":-0.2},{"t":5,"s":16,"v":-0.08},{"t":5,"s":17,"v":-0.04},{"t":5,"s":18,"v":-0.03},{"t":5,"s":19,"v":0.03},
{"t":6,"s":0,"v":-0.2},{"t":6,"s":1,"v":-0.22},{"t":6,"s":2,"v":-0.22},{"t":6,"s":3,"v":-0.24},{"t":6,"s":4,"v":-0.24},{"t":6,"s":5,"v":-0.22},{"t":6,"s":6,"v":-0.02},{"t":6,"s":7,"v":0.36},{"t":6,"s":8,"v":0.82},{"t":6,"s":9,"v":0.5},{"t":6,"s":10,"v":0.18},{"t":6,"s":11,"v":0.06},{"t":6,"s":12,"v":-0.02},{"t":6,"s":13,"v":-0.1},{"t":6,"s":14,"v":-0.19},{"t":6,"s":15,"v":-0.16},{"t":6,"s":16,"v":-0.12},{"t":6,"s":17,"v":-0.12},{"t":6,"s":18,"v":-0.08},{"t":6,"s":19,"v":-0.04},
{"t":7,"s":0,"v":-0.15},{"t":7,"s":1,"v":-0.22},{"t":7,"s":2,"v":-0.17},{"t":7,"s":3,"v":-0.18},{"t":7,"s":4,"v":-0.18},{"t":7,"s":5,"v":-0.17},{"t":7,"s":6,"v":-0.03},{"t":7,"s":7,"v":0.5},{"t":7,"s":8,"v":1},{"t":7,"s":9,"v":0.55},{"t":7,"s":10,"v":0.17},{"t":7,"s":11,"v":0.03},{"t":7,"s":12,"v":0},{"t":7,"s":13,"v":-0.12},{"t":7,"s":14,"v":-0.28},{"t":7,"s":15,"v":-0.3},{"t":7,"s":16,"v":-0.24},{"t":7,"s":17,"v":-0.24},{"t":7,"s":18,"v":-0.2},{"t":7,"s":19,"v":-0.13}]
},
"vconcat":[
{"hconcat":[
{"width":273,"height":253,"layer":[{"data":{"name":"A"},"mark":{"type":"rect","binSpacing":0,"strokeWidth":0.7},"encoding":{"x":{"field":"t","type":"quantitative","bin":{"extent":[0,8],"step":1},"scale":{"domain":[0,8],"nice":false,"zero":false},"axis":{"values":[0,8],"labelExpr":"datum.value==0?'0':'1.8'","title":"Time (s)","titlePadding":4}},"y":{"field":"s","type":"quantitative","bin":{"extent":[0,20],"step":1},"scale":{"domain":[0,20],"reverse":true,"nice":false,"zero":false},"axis":{"values":[0,10,20],"labelExpr":"datum.value==10?'1.45':'0.70'","title":"E vs. Ag/AgCl (V)","titlePadding":3,"labelPadding":6}},"color":{"field":"v","type":"quantitative","legend":null,"scale":{"domain":[-0.67,-0.53,-0.37,-0.26,-0.255,-0.25,-0.16,-0.04,0,0.07,0.11,0.14,0.18,0.235,0.295,0.355,0.43,0.477,0.583,0.735,0.84,0.96,0.965,1],"range":["#3a4fa0","#2a3388","#14164f","#0c0c14","#0c0c14","#f9ed0e","#dcbd2a","#b57a25","#a96c20","#8a4a1f","#6f2d25","#581039","#8f1a55","#5d3a78","#2e7a9a","#1bbdc0","#10a890","#0f9a60","#157a3a","#109a48","#20b048","#62bf45","#000000","#000000"]}},"stroke":{"field":"v","type":"quantitative","legend":null,"scale":{"domain":[-0.67,-0.53,-0.37,-0.26,-0.255,-0.25,-0.16,-0.04,0,0.07,0.11,0.14,0.18,0.235,0.295,0.355,0.43,0.477,0.583,0.735,0.84,0.96,0.965,1],"range":["#3a4fa0","#2a3388","#14164f","#0c0c14","#0c0c14","#f9ed0e","#dcbd2a","#b57a25","#a96c20","#8a4a1f","#6f2d25","#581039","#8f1a55","#5d3a78","#2e7a9a","#1bbdc0","#10a890","#0f9a60","#157a3a","#109a48","#20b048","#62bf45","#000000","#000000"]}}}},
{"data":{"values":[{"a":"A","b":". Reference A (large)"}]},"mark":{"type":"text","align":"right","fontWeight":"bold","fontSize":32,"color":"#222222"},"encoding":{"x":{"datum":-0.97},"y":{"datum":-3.5},"text":{"field":"a"}}},
{"data":{"values":[{"a":"A","b":". Reference A (large)"}]},"mark":{"type":"text","align":"left","fontSize":32,"color":"#222222"},"encoding":{"x":{"datum":-0.97},"y":{"datum":-3.5},"text":{"field":"b"}}}]},
{"hconcat":[
{"width":273,"height":253,"layer":[{"data":{"name":"B"},"mark":{"type":"rect","binSpacing":0,"strokeWidth":0.7},"encoding":{"x":{"field":"t","type":"quantitative","bin":{"extent":[0,8],"step":1},"scale":{"domain":[0,8],"nice":false,"zero":false},"axis":{"values":[0,8],"labelExpr":"datum.value==0?'0':'1.8'","title":"Time (s)","titlePadding":4}},"y":{"field":"s","type":"quantitative","bin":{"extent":[0,20],"step":1},"scale":{"domain":[0,20],"reverse":true,"nice":false,"zero":false},"axis":{"values":[0,10,20],"labelExpr":"datum.value==10?'1.45':'0.70'","title":"E vs. Ag/AgCl (V)","titlePadding":3,"labelPadding":6}},"color":{"field":"v","type":"quantitative","legend":null,"scale":{"domain":[-0.67,-0.53,-0.37,-0.26,-0.255,-0.25,-0.16,-0.04,0,0.07,0.11,0.14,0.18,0.235,0.295,0.355,0.43,0.477,0.583,0.735,0.84,0.96,0.965,1],"range":["#3a4fa0","#2a3388","#14164f","#0c0c14","#0c0c14","#f9ed0e","#dcbd2a","#b57a25","#a96c20","#8a4a1f","#6f2d25","#581039","#8f1a55","#5d3a78","#2e7a9a","#1bbdc0","#10a890","#0f9a60","#157a3a","#109a48","#20b048","#62bf45","#000000","#000000"]}},"stroke":{"field":"v","type":"quantitative","legend":null,"scale":{"domain":[-0.67,-0.53,-0.37,-0.26,-0.255,-0.25,-0.16,-0.04,0,0.07,0.11,0.14,0.18,0.235,0.295,0.355,0.43,0.477,0.583,0.735,0.84,0.96,0.965,1],"range":["#3a4fa0","#2a3388","#14164f","#0c0c14","#0c0c14","#f9ed0e","#dcbd2a","#b57a25","#a96c20","#8a4a1f","#6f2d25","#581039","#8f1a55","#5d3a78","#2e7a9a","#1bbdc0","#10a890","#0f9a60","#157a3a","#109a48","#20b048","#62bf45","#000000","#000000"]}}}},
{"data":{"values":[{"a":"B","b":". Reference B (medium)"}]},"mark":{"type":"text","align":"right","fontWeight":"bold","fontSize":32,"color":"#222222"},"encoding":{"x":{"datum":-1.47},"y":{"datum":-3.5},"text":{"field":"a"}}},
{"data":{"values":[{"a":"B","b":". Reference B (medium)"}]},"mark":{"type":"text","align":"left","fontSize":32,"color":"#222222"},"encoding":{"x":{"datum":-1.47},"y":{"datum":-3.5},"text":{"field":"b"}}}]},
{"hconcat":[
{"width":273,"height":253,"layer":[{"data":{"name":"C"},"mark":{"type":"rect","binSpacing":0,"strokeWidth":0.7},"encoding":{"x":{"field":"t","type":"quantitative","bin":{"extent":[0,8],"step":1},"scale":{"domain":[0,8],"nice":false,"zero":false},"axis":{"values":[0,8],"labelExpr":"datum.value==0?'0':'1.8'","title":"Time (s)","titlePadding":4}},"y":{"field":"s","type":"quantitative","bin":{"extent":[0,20],"step":1},"scale":{"domain":[0,20],"reverse":true,"nice":false,"zero":false},"axis":{"values":[0,10,20],"labelExpr":"datum.value==10?'1.45':'0.70'","title":"E vs. Ag/AgCl (V)","titlePadding":3,"labelPadding":6}},"color":{"field":"v","type":"quantitative","legend":null,"scale":{"domain":[-0.67,-0.53,-0.37,-0.26,-0.255,-0.25,-0.16,-0.04,0,0.07,0.11,0.14,0.18,0.235,0.295,0.355,0.43,0.477,0.583,0.735,0.84,0.96,0.965,1],"range":["#3a4fa0","#2a3388","#14164f","#0c0c14","#0c0c14","#f9ed0e","#dcbd2a","#b57a25","#a96c20","#8a4a1f","#6f2d25","#581039","#8f1a55","#5d3a78","#2e7a9a","#1bbdc0","#10a890","#0f9a60","#157a3a","#109a48","#20b048","#62bf45","#000000","#000000"]}},"stroke":{"field":"v","type":"quantitative","legend":null,"scale":{"domain":[-0.67,-0.53,-0.37,-0.26,-0.255,-0.25,-0.16,-0.04,0,0.07,0.11,0.14,0.18,0.235,0.295,0.355,0.43,0.477,0.583,0.735,0.84,0.96,0.965,1],"range":["#3a4fa0","#2a3388","#14164f","#0c0c14","#0c0c14","#f9ed0e","#dcbd2a","#b57a25","#a96c20","#8a4a1f","#6f2d25","#581039","#8f1a55","#5d3a78","#2e7a9a","#1bbdc0","#10a890","#0f9a60","#157a3a","#109a48","#20b048","#62bf45","#000000","#000000"]}}}},
{"data":{"values":[{"a":"C","b":". Reference C (small)"}]},"mark":{"type":"text","align":"right","fontWeight":"bold","fontSize":32,"color":"#222222"},"encoding":{"x":{"datum":-0.97},"y":{"datum":-3.5},"text":{"field":"a"}}},
{"data":{"values":[{"a":"C","b":". Reference C (small)"}]},"mark":{"type":"text","align":"left","fontSize":32,"color":"#222222"},"encoding":{"x":{"datum":-0.97},"y":{"datum":-3.5},"text":{"field":"b"}}}]},
{"width":273,"height":253,"layer":[{"data":{"values":[{"t0":0,"t1":8,"s0":0,"s1":20,"w":"1"},{"t0":1,"t1":8,"s0":3,"s1":11,"w":"1.5"},{"t0":3,"t1":8,"s0":11,"s1":15.5,"w":"6"}]},"mark":"rect","encoding":{"x":{"field":"t0","type":"quantitative","scale":{"domain":[0,8],"nice":false,"zero":false},"axis":{"values":[0,8],"labelExpr":"datum.value==0?'0':'1.8'","title":"Time (s)","titlePadding":4}},"x2":{"field":"t1"},"y":{"field":"s0","type":"quantitative","scale":{"domain":[0,20],"reverse":true,"nice":false,"zero":false},"axis":{"values":[0,10,20],"labelExpr":"datum.value==10?'1.45':'0.70'","title":"E vs. Ag/AgCl (V)","titlePadding":3,"labelPadding":6}},"y2":{"field":"s1"},"color":{"field":"w","type":"nominal","legend":null,"scale":{"domain":["1","1.5","6"],"range":["#282828","#565656","#f9941c"]}}}},
{"data":{"values":[{"t":2.3,"s":1.65,"txt":"weight = 1"},{"t":2.3,"s":7,"txt":"weight = 1.5"}]},"mark":{"type":"text","align":"left","fontSize":26,"color":"#e8e8e8"},"encoding":{"x":{"field":"t","type":"quantitative"},"y":{"field":"s","type":"quantitative"},"text":{"field":"txt"}}},
{"data":{"values":[{"t":3.7,"s":13.5,"txt":"weight = 6"}]},"mark":{"type":"text","align":"left","fontSize":26,"color":"#2a2012"},"encoding":{"x":{"field":"t","type":"quantitative"},"y":{"field":"s","type":"quantitative"},"text":{"field":"txt"}}},
{"data":{"values":[{"a":"D","b":". Weight matrix"}]},"mark":{"type":"text","align":"right","fontWeight":"bold","fontSize":32,"color":"#222222"},"encoding":{"x":{"datum":0.67},"y":{"datum":-3.5},"text":{"field":"a"}}},
{"data":{"values":[{"a":"D","b":". Weight matrix"}]},"mark":{"type":"text","align":"left","fontSize":32,"color":"#222222"},"encoding":{"x":{"datum":0.67},"y":{"datum":-3.5},"text":{"field":"b"}}}]}
],"spacing":12}
],"spacing":37}
],"spacing":29},
{"vconcat":[
{"hconcat":[
{"width":273,"height":253,"layer":[{"data":{"name":"E"},"mark":{"type":"rect","binSpacing":0,"strokeWidth":0.7},"encoding":{"x":{"field":"t","type":"quantitative","bin":{"extent":[0,8],"step":1},"scale":{"domain":[0,8],"nice":false,"zero":false},"axis":{"values":[0,8],"labelExpr":"datum.value==0?'0':'1.8'","title":"Time (s)","titlePadding":4}},"y":{"field":"s","type":"quantitative","bin":{"extent":[0,20],"step":1},"scale":{"domain":[0,20],"reverse":true,"nice":false,"zero":false},"axis":{"values":[0,10,20],"labelExpr":"datum.value==10?'1.45':'0.70'","title":"E vs. Ag/AgCl (V)","titlePadding":3,"labelPadding":6}},"color":{"field":"v","type":"quantitative","legend":null,"scale":{"domain":[-0.67,-0.53,-0.37,-0.26,-0.255,-0.25,-0.16,-0.04,0,0.07,0.11,0.14,0.18,0.235,0.295,0.355,0.43,0.477,0.583,0.735,0.84,0.96,0.965,1],"range":["#3a4fa0","#2a3388","#14164f","#0c0c14","#0c0c14","#f9ed0e","#dcbd2a","#b57a25","#a96c20","#8a4a1f","#6f2d25","#581039","#8f1a55","#5d3a78","#2e7a9a","#1bbdc0","#10a890","#0f9a60","#157a3a","#109a48","#20b048","#62bf45","#000000","#000000"]}},"stroke":{"field":"v","type":"quantitative","legend":null,"scale":{"domain":[-0.67,-0.53,-0.37,-0.26,-0.255,-0.25,-0.16,-0.04,0,0.07,0.11,0.14,0.18,0.235,0.295,0.355,0.43,0.477,0.583,0.735,0.84,0.96,0.965,1],"range":["#3a4fa0","#2a3388","#14164f","#0c0c14","#0c0c14","#f9ed0e","#dcbd2a","#b57a25","#a96c20","#8a4a1f","#6f2d25","#581039","#8f1a55","#5d3a78","#2e7a9a","#1bbdc0","#10a890","#0f9a60","#157a3a","#109a48","#20b048","#62bf45","#000000","#000000"]}}}},
{"data":{"values":[{"a":"E","b":". Sample 1 (large)"}]},"mark":{"type":"text","align":"right","fontWeight":"bold","fontSize":32,"color":"#222222"},"encoding":{"x":{"datum":-0.18},"y":{"datum":-3.5},"text":{"field":"a"}}},
{"data":{"values":[{"a":"E","b":". Sample 1 (large)"}]},"mark":{"type":"text","align":"left","fontSize":32,"color":"#222222"},"encoding":{"x":{"datum":-0.18},"y":{"datum":-3.5},"text":{"field":"b"}}}]},
{"hconcat":[
{"width":273,"height":253,"layer":[{"data":{"name":"F"},"mark":{"type":"rect","binSpacing":0,"strokeWidth":0.7},"encoding":{"x":{"field":"t","type":"quantitative","bin":{"extent":[0,8],"step":1},"scale":{"domain":[0,8],"nice":false,"zero":false},"axis":{"values":[0,8],"labelExpr":"datum.value==0?'0':'1.8'","title":"Time (s)","titlePadding":4}},"y":{"field":"s","type":"quantitative","bin":{"extent":[0,20],"step":1},"scale":{"domain":[0,20],"reverse":true,"nice":false,"zero":false},"axis":{"values":[0,10,20],"labelExpr":"datum.value==10?'1.45':'0.70'","title":"E vs. Ag/AgCl (V)","titlePadding":3,"labelPadding":6}},"color":{"field":"v","type":"quantitative","legend":null,"scale":{"domain":[-0.67,-0.53,-0.37,-0.26,-0.255,-0.25,-0.16,-0.04,0,0.07,0.11,0.14,0.18,0.235,0.295,0.355,0.43,0.477,0.583,0.735,0.84,0.96,0.965,1],"range":["#3a4fa0","#2a3388","#14164f","#0c0c14","#0c0c14","#f9ed0e","#dcbd2a","#b57a25","#a96c20","#8a4a1f","#6f2d25","#581039","#8f1a55","#5d3a78","#2e7a9a","#1bbdc0","#10a890","#0f9a60","#157a3a","#109a48","#20b048","#62bf45","#000000","#000000"]}},"stroke":{"field":"v","type":"quantitative","legend":null,"scale":{"domain":[-0.67,-0.53,-0.37,-0.26,-0.255,-0.25,-0.16,-0.04,0,0.07,0.11,0.14,0.18,0.235,0.295,0.355,0.43,0.477,0.583,0.735,0.84,0.96,0.965,1],"range":["#3a4fa0","#2a3388","#14164f","#0c0c14","#0c0c14","#f9ed0e","#dcbd2a","#b57a25","#a96c20","#8a4a1f","#6f2d25","#581039","#8f1a55","#5d3a78","#2e7a9a","#1bbdc0","#10a890","#0f9a60","#157a3a","#109a48","#20b048","#62bf45","#000000","#000000"]}}}},
{"data":{"values":[{"a":"F","b":". Sample 2 (medium)"}]},"mark":{"type":"text","align":"right","fontWeight":"bold","fontSize":32,"color":"#222222"},"encoding":{"x":{"datum":-1.06},"y":{"datum":-3.5},"text":{"field":"a"}}},
{"data":{"values":[{"a":"F","b":". Sample 2 (medium)"}]},"mark":{"type":"text","align":"left","fontSize":32,"color":"#222222"},"encoding":{"x":{"datum":-1.06},"y":{"datum":-3.5},"text":{"field":"b"}}}]},
{"hconcat":[
{"width":273,"height":253,"layer":[{"data":{"name":"G"},"mark":{"type":"rect","binSpacing":0,"strokeWidth":0.7},"encoding":{"x":{"field":"t","type":"quantitative","bin":{"extent":[0,8],"step":1},"scale":{"domain":[0,8],"nice":false,"zero":false},"axis":{"values":[0,8],"labelExpr":"datum.value==0?'0':'1.8'","title":"Time (s)","titlePadding":4}},"y":{"field":"s","type":"quantitative","bin":{"extent":[0,20],"step":1},"scale":{"domain":[0,20],"reverse":true,"nice":false,"zero":false},"axis":{"values":[0,10,20],"labelExpr":"datum.value==10?'1.45':'0.70'","title":"E vs. Ag/AgCl (V)","titlePadding":3,"labelPadding":6}},"color":{"field":"v","type":"quantitative","legend":null,"scale":{"domain":[-0.67,-0.53,-0.37,-0.26,-0.255,-0.25,-0.16,-0.04,0,0.07,0.11,0.14,0.18,0.235,0.295,0.355,0.43,0.477,0.583,0.735,0.84,0.96,0.965,1],"range":["#3a4fa0","#2a3388","#14164f","#0c0c14","#0c0c14","#f9ed0e","#dcbd2a","#b57a25","#a96c20","#8a4a1f","#6f2d25","#581039","#8f1a55","#5d3a78","#2e7a9a","#1bbdc0","#10a890","#0f9a60","#157a3a","#109a48","#20b048","#62bf45","#000000","#000000"]}},"stroke":{"field":"v","type":"quantitative","legend":null,"scale":{"domain":[-0.67,-0.53,-0.37,-0.26,-0.255,-0.25,-0.16,-0.04,0,0.07,0.11,0.14,0.18,0.235,0.295,0.355,0.43,0.477,0.583,0.735,0.84,0.96,0.965,1],"range":["#3a4fa0","#2a3388","#14164f","#0c0c14","#0c0c14","#f9ed0e","#dcbd2a","#b57a25","#a96c20","#8a4a1f","#6f2d25","#581039","#8f1a55","#5d3a78","#2e7a9a","#1bbdc0","#10a890","#0f9a60","#157a3a","#109a48","#20b048","#62bf45","#000000","#000000"]}}}},
{"data":{"values":[{"a":"G","b":". Sample 3 (small)"}]},"mark":{"type":"text","align":"right","fontWeight":"bold","fontSize":32,"color":"#222222"},"encoding":{"x":{"datum":-0.12},"y":{"datum":-3.55},"text":{"field":"a"}}},
{"data":{"values":[{"a":"G","b":". Sample 3 (small)"}]},"mark":{"type":"text","align":"left","fontSize":32,"color":"#222222"},"encoding":{"x":{"datum":-0.12},"y":{"datum":-3.55},"text":{"field":"b"}}}]},
{"width":273,"height":253,"layer":[{"data":{"name":"H"},"mark":{"type":"rect","binSpacing":0,"strokeWidth":0.7},"encoding":{"x":{"field":"t","type":"quantitative","bin":{"extent":[0,8],"step":1},"scale":{"domain":[0,8],"nice":false,"zero":false},"axis":{"values":[0,8],"labelExpr":"datum.value==0?'0':'1.8'","title":"Time (s)","titlePadding":4}},"y":{"field":"s","type":"quantitative","bin":{"extent":[0,20],"step":1},"scale":{"domain":[0,20],"reverse":true,"nice":false,"zero":false},"axis":{"values":[0,10,20],"labelExpr":"datum.value==10?'1.45':'0.70'","title":"E vs. Ag/AgCl (V)","titlePadding":3,"labelPadding":6}},"color":{"field":"v","type":"quantitative","legend":null,"scale":{"domain":[-0.67,-0.53,-0.37,-0.26,-0.255,-0.25,-0.16,-0.04,0,0.07,0.11,0.14,0.18,0.235,0.295,0.355,0.43,0.477,0.583,0.735,0.84,0.96,0.965,1],"range":["#3a4fa0","#2a3388","#14164f","#0c0c14","#0c0c14","#f9ed0e","#dcbd2a","#b57a25","#a96c20","#8a4a1f","#6f2d25","#581039","#8f1a55","#5d3a78","#2e7a9a","#1bbdc0","#10a890","#0f9a60","#157a3a","#109a48","#20b048","#62bf45","#000000","#000000"]}},"stroke":{"field":"v","type":"quantitative","legend":null,"scale":{"domain":[-0.67,-0.53,-0.37,-0.26,-0.255,-0.25,-0.16,-0.04,0,0.07,0.11,0.14,0.18,0.235,0.295,0.355,0.43,0.477,0.583,0.735,0.84,0.96,0.965,1],"range":["#3a4fa0","#2a3388","#14164f","#0c0c14","#0c0c14","#f9ed0e","#dcbd2a","#b57a25","#a96c20","#8a4a1f","#6f2d25","#581039","#8f1a55","#5d3a78","#2e7a9a","#1bbdc0","#10a890","#0f9a60","#157a3a","#109a48","#20b048","#62bf45","#000000","#000000"]}}}},
{"data":{"values":[{"a":"H","b":". Sample 4 (noise)"}]},"mark":{"type":"text","align":"right","fontWeight":"bold","fontSize":32,"color":"#222222"},"encoding":{"x":{"datum":0.32},"y":{"datum":-3.5},"text":{"field":"a"}}},
{"data":{"values":[{"a":"H","b":". Sample 4 (noise)"}]},"mark":{"type":"text","align":"left","fontSize":32,"color":"#222222"},"encoding":{"x":{"datum":0.32},"y":{"datum":-3.5},"text":{"field":"b"}}}]}
],"spacing":14}
],"spacing":34}
],"spacing":32},
{"vconcat":[
{"hconcat":[
{"width":273,"height":120,"data":{"values":[{"ref":"A","label":"SSIM\u00a0 (ref\u00a0 A) =","val":"0.78","best":true},{"ref":"B","label":"SSIM\u00a0 (ref\u00a0 B) =","val":"0.49","best":false},{"ref":"C","label":"SSIM\u00a0 (ref\u00a0 C) =","val":"0.20","best":false}]},"layer":[
{"mark":{"type":"text","align":"right","fontSize":30,"color":"#222222"},"encoding":{"x":{"datum":0.72,"scale":{"domain":[0,1]},"axis":null},"y":{"field":"ref","type":"nominal","axis":null},"text":{"field":"label"}}},
{"transform":[{"filter":"!datum.best"}],"mark":{"type":"text","align":"left","fontSize":30,"color":"#222222"},"encoding":{"x":{"datum":0.765},"y":{"field":"ref","type":"nominal"},"text":{"field":"val"}}},
{"transform":[{"filter":"datum.best"}],"mark":{"type":"text","align":"left","fontSize":30,"fontWeight":"bold","color":"#c4161c"},"encoding":{"x":{"datum":0.765},"y":{"field":"ref","type":"nominal"},"text":{"field":"val"}}}]},
{"hconcat":[
{"width":273,"height":120,"data":{"values":[{"ref":"A","label":"SSIM\u00a0 (ref\u00a0 A) =","val":"0.18","best":false},{"ref":"B","label":"SSIM\u00a0 (ref\u00a0 B) =","val":"0.87","best":true},{"ref":"C","label":"SSIM\u00a0 (ref\u00a0 C) =","val":"0.56","best":false}]},"layer":[
{"mark":{"type":"text","align":"right","fontSize":30,"color":"#222222"},"encoding":{"x":{"datum":0.733,"scale":{"domain":[0,1]},"axis":null},"y":{"field":"ref","type":"nominal","axis":null},"text":{"field":"label"}}},
{"transform":[{"filter":"!datum.best"}],"mark":{"type":"text","align":"left","fontSize":30,"color":"#222222"},"encoding":{"x":{"datum":0.773},"y":{"field":"ref","type":"nominal"},"text":{"field":"val"}}},
{"transform":[{"filter":"datum.best"}],"mark":{"type":"text","align":"left","fontSize":30,"fontWeight":"bold","color":"#c4161c"},"encoding":{"x":{"datum":0.773},"y":{"field":"ref","type":"nominal"},"text":{"field":"val"}}}]},
{"hconcat":[
{"width":273,"height":120,"data":{"values":[{"ref":"A","label":"SSIM\u00a0 (ref\u00a0 A) =","val":"0.12","best":false},{"ref":"B","label":"SSIM\u00a0 (ref\u00a0 B) =","val":"0.48","best":false},{"ref":"C","label":"SSIM\u00a0 (ref\u00a0 C) =","val":"0.59","best":true}]},"layer":[
{"mark":{"type":"text","align":"right","fontSize":30,"color":"#222222"},"encoding":{"x":{"datum":0.725,"scale":{"domain":[0,1]},"axis":null},"y":{"field":"ref","type":"nominal","axis":null},"text":{"field":"label"}}},
{"transform":[{"filter":"!datum.best"}],"mark":{"type":"text","align":"left","fontSize":30,"color":"#222222"},"encoding":{"x":{"datum":0.766},"y":{"field":"ref","type":"nominal"},"text":{"field":"val"}}},
{"transform":[{"filter":"datum.best"}],"mark":{"type":"text","align":"left","fontSize":30,"fontWeight":"bold","color":"#c4161c"},"encoding":{"x":{"datum":0.766},"y":{"field":"ref","type":"nominal"},"text":{"field":"val"}}}]},
{"width":273,"height":120,"data":{"values":[{"ref":"A","label":"SSIM\u00a0 (ref\u00a0 A) =","val":"0.08"},{"ref":"B","label":"SSIM\u00a0 (ref\u00a0 B) =","val":"0.03"},{"ref":"C","label":"SSIM\u00a0 (ref\u00a0 C) =","val":"0.01"}]},"layer":[
{"mark":{"type":"text","align":"right","fontSize":30,"color":"#222222"},"encoding":{"x":{"datum":0.784,"scale":{"domain":[0,1]},"axis":null},"y":{"field":"ref","type":"nominal","axis":null},"text":{"field":"label"}}},
{"mark":{"type":"text","align":"left","fontSize":30,"color":"#222222"},"encoding":{"x":{"datum":0.824},"y":{"field":"ref","type":"nominal"},"text":{"field":"val"}}}]}
],"spacing":105}
],"spacing":113}
],"spacing":112},
{"width":1442,"height":19,"data":{"values":[{"v":-0.66},{"v":-0.64},{"v":-0.62},{"v":-0.6},{"v":-0.58},{"v":-0.56},{"v":-0.54},{"v":-0.52},{"v":-0.5},{"v":-0.48},{"v":-0.46},{"v":-0.44},{"v":-0.42},{"v":-0.4},{"v":-0.38},{"v":-0.36},{"v":-0.34},{"v":-0.32},{"v":-0.3},{"v":-0.28},{"v":-0.26},{"v":-0.24},{"v":-0.22},{"v":-0.2},{"v":-0.18},{"v":-0.16},{"v":-0.14},{"v":-0.12},{"v":-0.1},{"v":-0.08},{"v":-0.06},{"v":-0.04},{"v":-0.02},{"v":0},{"v":0.02},{"v":0.04},{"v":0.06},{"v":0.08},{"v":0.1},{"v":0.12},{"v":0.14},{"v":0.16},{"v":0.18},{"v":0.2},{"v":0.22},{"v":0.24},{"v":0.26},{"v":0.28},{"v":0.3},{"v":0.32},{"v":0.34},{"v":0.36},{"v":0.38},{"v":0.4},{"v":0.42},{"v":0.44},{"v":0.46},{"v":0.48},{"v":0.5},{"v":0.52},{"v":0.54},{"v":0.56},{"v":0.58},{"v":0.6},{"v":0.62},{"v":0.64},{"v":0.66},{"v":0.68},{"v":0.7},{"v":0.72},{"v":0.74},{"v":0.76},{"v":0.78},{"v":0.8},{"v":0.82},{"v":0.84},{"v":0.86},{"v":0.88},{"v":0.9},{"v":0.92},{"v":0.94},{"v":0.96},{"v":0.98}]},"mark":{"type":"rect","clip":true,"binSpacing":0,"strokeWidth":0.7},"encoding":{"x":{"field":"v","type":"quantitative","bin":{"extent":[-0.67,1.01],"step":0.02,"nice":false},"scale":{"domain":[-3.02,3.559],"nice":false,"zero":false},"axis":{"values":[-0.635,0,1],"labelExpr":"datum.value<0?'-0.67':datum.value==0?'0':'1'","labelFontSize":26,"labelPadding":5,"labelColor":"#333333","title":"Normalized current","titleFontSize":26,"titleX":699,"titlePadding":8}},"color":{"field":"v","type":"quantitative","legend":null,"scale":{"domain":[-0.67,-0.53,-0.37,-0.26,-0.255,-0.25,-0.16,-0.04,0,0.07,0.11,0.14,0.18,0.235,0.295,0.355,0.43,0.477,0.583,0.735,0.84,0.96,0.965,1],"range":["#3a4fa0","#2a3388","#14164f","#0c0c14","#0c0c14","#f9ed0e","#dcbd2a","#b57a25","#a96c20","#8a4a1f","#6f2d25","#581039","#8f1a55","#5d3a78","#2e7a9a","#1bbdc0","#10a890","#0f9a60","#157a3a","#109a48","#20b048","#62bf45","#000000","#000000"]}},"stroke":{"field":"v","type":"quantitative","legend":null,"scale":{"domain":[-0.67,-0.53,-0.37,-0.26,-0.255,-0.25,-0.16,-0.04,0,0.07,0.11,0.14,0.18,0.235,0.295,0.355,0.43,0.477,0.583,0.735,0.84,0.96,0.965,1],"range":["#3a4fa0","#2a3388","#14164f","#0c0c14","#0c0c14","#f9ed0e","#dcbd2a","#b57a25","#a96c20","#8a4a1f","#6f2d25","#581039","#8f1a55","#5d3a78","#2e7a9a","#1bbdc0","#10a890","#0f9a60","#157a3a","#109a48","#20b048","#62bf45","#000000","#000000"]}}}}
],"spacing":22}
],"spacing":13}
],"spacing":20}
